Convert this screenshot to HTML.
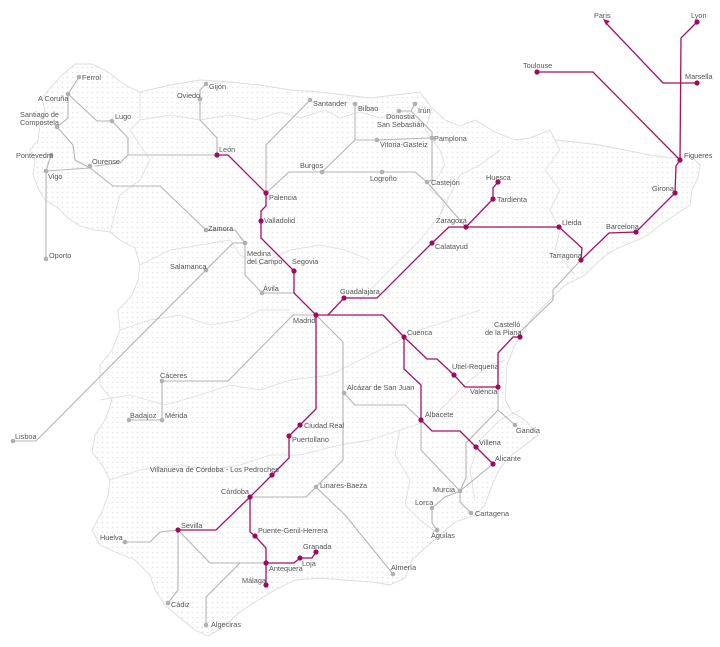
<!DOCTYPE html>
<html><head><meta charset="utf-8"><style>
html,body{margin:0;padding:0;background:#fff;width:720px;height:647px;overflow:hidden}
svg{display:block}
text{font-family:"Liberation Sans",sans-serif;font-size:7.3px;fill:#555}
.g{fill:none;stroke:#b5b5b5;stroke-width:1.1}
.p{fill:none;stroke:#a3125f;stroke-width:1.3}
.b{fill:none;stroke:#e0e0e0;stroke-width:0.9}
.gd{fill:#b0b0b0}
.pd{fill:#9b0d5a}
</style></head><body>
<svg width="720" height="647" viewBox="0 0 720 647" xmlns="http://www.w3.org/2000/svg">
<defs>
<pattern id="dots" width="5" height="5" patternUnits="userSpaceOnUse">
<circle cx="2.5" cy="2.5" r="0.9" fill="#e6e6e6"/>
</pattern>
</defs>
<path fill="url(#dots)" stroke="#dcdcdc" stroke-width="0.9" d="M62,75 L75,64 L92,64 L108,72 L125,85 L140,92 L170,85 L200,80 L230,82 L260,85 L290,90 L320,92 L345,95 L370,98 L395,95 L420,92 L432,108 L445,120 L460,126 L475,120 L495,132 L515,140 L530,138 L550,130 L555,140 L575,142 L600,145 L625,150 L650,155 L672,158 L690,155 L700,165 L698,178 L692,190 L690,205 L675,215 L660,225 L645,237 L625,245 L610,252 L598,262 L585,275 L565,285 L550,300 L532,318 L522,335 L515,345 L507,365 L506,385 L505,400 L512,412 L525,420 L538,435 L525,445 L512,455 L500,468 L492,485 L485,505 L475,515 L455,522 L440,535 L425,548 L412,560 L405,578 L390,585 L372,582 L345,580 L320,578 L295,580 L275,590 L255,602 L240,612 L222,628 L208,636 L195,630 L180,618 L165,605 L155,590 L150,575 L135,560 L115,552 L100,545 L92,530 L102,512 L108,495 L110,480 L102,465 L92,452 L95,435 L105,420 L112,400 L100,385 L100,365 L112,350 L120,330 L118,310 L132,295 L138,280 L140,265 L135,248 L120,240 L110,232 L95,230 L80,226 L68,218 L58,208 L45,200 L38,188 L33,175 L35,160 L30,150 L38,140 L40,125 L45,110 L42,98 L50,88 Z"/>
<g class="b">
<path d="M140,92 L140,120 L130,130 L140,145 L150,160 L140,180 L120,195 L110,232"/>
<path d="M140,120 L170,115 L200,120 L230,115 L255,120 L280,112 L300,118 L325,110 L340,118 L360,112 L380,118 L400,112"/>
<path d="M432,108 L425,130 L440,150 L445,165 L430,190 L445,200 L440,215"/>
<path d="M500,150 L480,165 L460,175 L440,215 L420,240 L400,260 L380,280 L360,300"/>
<path d="M550,130 L560,150 L545,170 L560,190 L550,210 L560,230 L555,250 L575,275"/>
<path d="M140,265 L170,250 L200,245 L230,240 L240,255 L260,265 L290,250 L320,245 L345,250 L370,260"/>
<path d="M120,330 L150,320 L180,315 L210,325 L240,320 L260,310 L290,310"/>
<path d="M100,400 L130,395 L165,405 L200,395 L230,385 L260,390 L290,380 L330,375 L360,360 L390,345 L420,330 L450,320 L480,310"/>
<path d="M110,480 L140,470 L180,465 L210,470 L240,465 L270,455 L300,455 L340,445 L370,440 L400,430 L430,420"/>
<path d="M400,430 L395,455 L410,480 L405,505 L420,520 L440,535"/>
<path d="M520,410 L500,420 L480,440 L470,470 L475,500"/>
<path d="M430,420 L450,400 L470,380 L490,365 L505,360"/>
</g>
<!-- grey lines -->
<g class="g">
<path d="M79,77 L68,94 L97,121 L112,121"/>
<path d="M112,121 L128,138 L128,155 L120,163 L95,166"/>
<path d="M68,94 L68,118 L57,127"/>
<path d="M57,127 L73,145 L75,160 L90,168 L113,186 L160,186 L206,230"/>
<path d="M128,155 L217,155"/>
<path d="M46,171 L90,168"/>
<path d="M51,155 L46,171 L46,259"/>
<path d="M206,84 L200,90 L200,120 L217,138 L217,155"/>
<path d="M310,100 L266,145 L266,193"/>
<path d="M266,193 L289,172 L322,172 L382,172 L415,172 L427,182 L466,227"/>
<path d="M322,172 L355,140 L377,140 L432,138"/>
<path d="M355,104 L355,140"/>
<path d="M399,111 L411,111 L415,104"/>
<path d="M411,111 L432,132 L432,180 L427,182"/>
<path d="M206,230 L235,230 L245,243 L233,243 L206,270"/>
<path d="M206,270 L36,441 L13,441"/>
<path d="M245,243 L245,275 L262,293 L294,293"/>
<path d="M316,315 L293,315 L228,381 L162,381 L162,420 L129,420"/>
<path d="M316,315 L343,342 L343,460 L316,487 L306,497 L250,497"/>
<path d="M344,393 L355,405 L405,405 L421,420"/>
<path d="M316,487 L345,515 L393,574"/>
<path d="M421,420 L421,450 L460,491 L493,464"/>
<path d="M581,260 L553,290 L553,300 L520,332 L520,337"/>
<path d="M498,387 L498,410 L515,425"/>
<path d="M498,410 L466,443 L466,478 L460,491"/>
<path d="M460,491 L460,502 L471,513"/>
<path d="M460,491 L445,497 L432,508 L432,523 L437,530"/>
<path d="M125,542 L150,542 L160,532 L178,530"/>
<path d="M178,530 L178,590 L168,603"/>
<path d="M178,530 L210,563 L266,563"/>
<path d="M206,625 L206,597 L240,563"/>
</g>
<!-- purple lines -->
<g class="p">
<path d="M697,22 L681,38 L680,160"/>
<path d="M697,83 L663,83 L605,22"/>
<path d="M537,72 L593,72 L680,160 L676,166 L675,193 L636,232 L609,233 L581,260 L582,248 L559,227 L449,227 L432,243 L377,298 L344,298 L328,315"/>
<path d="M466,227 L493,199 L493,188 L498,182"/>
<path d="M217,155 L228,155 L266,193 L266,206 L261,211 L261,238 L294,271 L294,293 L316,315 L383,315 L404,337 L427,359 L437,359 L454,375 L465,387 L498,387 L498,353 L513,337 L520,337"/>
<path d="M404,337 L404,369 L421,385 L421,420 L432,431 L460,431 L476,447 L493,464"/>
<path d="M316,315 L316,409 L300,425 L289,436 L289,458 L272,475 L250,497 L216,530 L178,530"/>
<path d="M250,497 L250,532 L255,536 L266,548 L266,585"/>
<path d="M266,563 L294,563 L300,558 L312,558 L316,552"/>
</g>
<path d="M603,19 L610,21 L606,25 Z" fill="#a3125f"/>
<g class="gd">
<circle cx="79" cy="77" r="2.3"/><circle cx="68" cy="94" r="2.3"/><circle cx="112" cy="121" r="2.3"/>
<circle cx="57" cy="127" r="2.3"/><circle cx="51" cy="155" r="2.3"/><circle cx="46" cy="171" r="2.3"/>
<circle cx="90" cy="166" r="2.3"/><circle cx="46" cy="259" r="2.3"/><circle cx="200" cy="99" r="2.3"/>
<circle cx="206" cy="84" r="2.3"/><circle cx="310" cy="100" r="2.3"/><circle cx="355" cy="104" r="2.3"/>
<circle cx="399" cy="111" r="2.3"/><circle cx="415" cy="104" r="2.3"/><circle cx="377" cy="140" r="2.3"/>
<circle cx="432" cy="138" r="2.3"/><circle cx="322" cy="172" r="2.3"/><circle cx="382" cy="172" r="2.3"/>
<circle cx="427" cy="182" r="2.3"/><circle cx="206" cy="230" r="2.3"/><circle cx="245" cy="243" r="2.3"/>
<circle cx="206" cy="270" r="2.3"/><circle cx="262" cy="293" r="2.3"/><circle cx="13" cy="441" r="2.3"/>
<circle cx="162" cy="381" r="2.3"/><circle cx="162" cy="420" r="2.3"/><circle cx="129" cy="420" r="2.3"/>
<circle cx="344" cy="393" r="2.3"/><circle cx="316" cy="487" r="2.3"/><circle cx="393" cy="574" r="2.3"/>
<circle cx="515" cy="425" r="2.3"/><circle cx="460" cy="491" r="2.3"/><circle cx="471" cy="513" r="2.3"/>
<circle cx="432" cy="508" r="2.3"/><circle cx="437" cy="530" r="2.3"/><circle cx="125" cy="542" r="2.3"/>
<circle cx="168" cy="603" r="2.3"/><circle cx="206" cy="625" r="2.3"/>
</g>
<g class="pd">
<circle cx="697" cy="22" r="2.6"/><circle cx="697" cy="83" r="2.6"/><circle cx="537" cy="72" r="2.6"/>
<circle cx="680" cy="160" r="2.6"/><circle cx="675" cy="193" r="2.6"/><circle cx="636" cy="232" r="2.6"/>
<circle cx="581" cy="260" r="2.6"/><circle cx="559" cy="227" r="2.6"/><circle cx="466" cy="227" r="2.6"/>
<circle cx="493" cy="199" r="2.6"/><circle cx="498" cy="182" r="2.6"/><circle cx="432" cy="243" r="2.6"/>
<circle cx="344" cy="298" r="2.6"/><circle cx="316" cy="315" r="2.6"/><circle cx="294" cy="271" r="2.6"/>
<circle cx="261" cy="221" r="2.6"/><circle cx="266" cy="193" r="2.6"/><circle cx="217" cy="155" r="2.6"/>
<circle cx="404" cy="337" r="2.6"/><circle cx="454" cy="375" r="2.6"/><circle cx="498" cy="387" r="2.6"/>
<circle cx="520" cy="337" r="2.6"/><circle cx="421" cy="420" r="2.6"/><circle cx="476" cy="447" r="2.6"/>
<circle cx="493" cy="464" r="2.6"/><circle cx="300" cy="425" r="2.6"/><circle cx="289" cy="436" r="2.6"/>
<circle cx="272" cy="475" r="2.6"/><circle cx="250" cy="497" r="2.6"/><circle cx="178" cy="530" r="2.6"/>
<circle cx="255" cy="536" r="2.6"/><circle cx="266" cy="563" r="2.6"/><circle cx="266" cy="585" r="2.6"/>
<circle cx="300" cy="558" r="2.6"/><circle cx="316" cy="552" r="2.6"/>
</g>
<text x="594" y="18">Paris</text><text x="691" y="18">Lyon</text>
<text x="523" y="68">Toulouse</text><text x="685" y="79">Marsella</text>
<text x="684" y="158">Figueres</text><text x="652" y="191">Girona</text>
<text x="606" y="229">Barcelona</text><text x="549" y="258">Tarragona</text>
<text x="562" y="225">Lleida</text><text x="486" y="180">Huesca</text>
<text x="497" y="202">Tardienta</text><text x="436" y="223">Zaragoza</text>
<text x="435" y="249">Calatayud</text><text x="340" y="294">Guadalajara</text>
<text x="293" y="323">Madrid</text><text x="407" y="335">Cuenca</text>
<text x="452" y="369">Utiel-Requena</text><text x="470" y="394">València</text>
<text x="494" y="327">Castelló</text><text x="485" y="335">de la Plana</text>
<text x="425" y="417">Albacete</text><text x="479" y="445">Villena</text>
<text x="495" y="461">Alicante</text><text x="516" y="433">Gandía</text>
<text x="433" y="492">Murcia</text><text x="475" y="516">Cartagena</text>
<text x="415" y="505">Lorca</text><text x="431" y="538">Águilas</text>
<text x="391" y="570">Almería</text><text x="347" y="390">Alcázar de San Juan</text>
<text x="320" y="488">Linares-Baeza</text><text x="304" y="428">Ciudad Real</text>
<text x="292" y="442">Puertollano</text><text x="150" y="472">Villanueva de Córdoba - Los Pedroches</text>
<text x="221" y="494">Córdoba</text><text x="181" y="528">Sevilla</text>
<text x="258" y="533">Puente-Genil-Herrera</text><text x="303" y="549">Granada</text>
<text x="302" y="566">Loja</text><text x="269" y="571">Antequera</text>
<text x="242" y="583">Málaga</text><text x="100" y="540">Huelva</text>
<text x="171" y="607">Cádiz</text><text x="211" y="627">Algeciras</text>
<text x="15" y="439">Lisboa</text><text x="130" y="418">Badajoz</text>
<text x="165" y="418">Mérida</text><text x="160" y="378">Cáceres</text>
<text x="292" y="264">Segovia</text><text x="263" y="291">Ávila</text>
<text x="247" y="256">Medina</text><text x="247" y="264">del Campo</text>
<text x="170" y="269">Salamanca</text><text x="208" y="231">Zamora</text>
<text x="264" y="223">Valladolid</text><text x="269" y="200">Palencia</text>
<text x="219" y="152">León</text><text x="300" y="168">Burgos</text>
<text x="370" y="181">Logroño</text><text x="431" y="185">Castejón</text>
<text x="380" y="147">Vitoria-Gasteiz</text><text x="434" y="141">Pamplona</text>
<text x="386" y="119">Donostia</text><text x="377" y="127">San Sebastián</text>
<text x="418" y="113">Irún</text><text x="358" y="111">Bilbao</text>
<text x="313" y="106">Santander</text><text x="209" y="89">Gijón</text>
<text x="177" y="98">Oviedo</text><text x="82" y="80">Ferrol</text>
<text x="38" y="101">A Coruña</text><text x="20" y="117">Santiago de</text>
<text x="20" y="125">Compostela</text><text x="115" y="119">Lugo</text>
<text x="16" y="158">Pontevedra</text><text x="92" y="164">Ourense</text>
<text x="48" y="179">Vigo</text><text x="49" y="258">Oporto</text>
</svg>
</body></html>
